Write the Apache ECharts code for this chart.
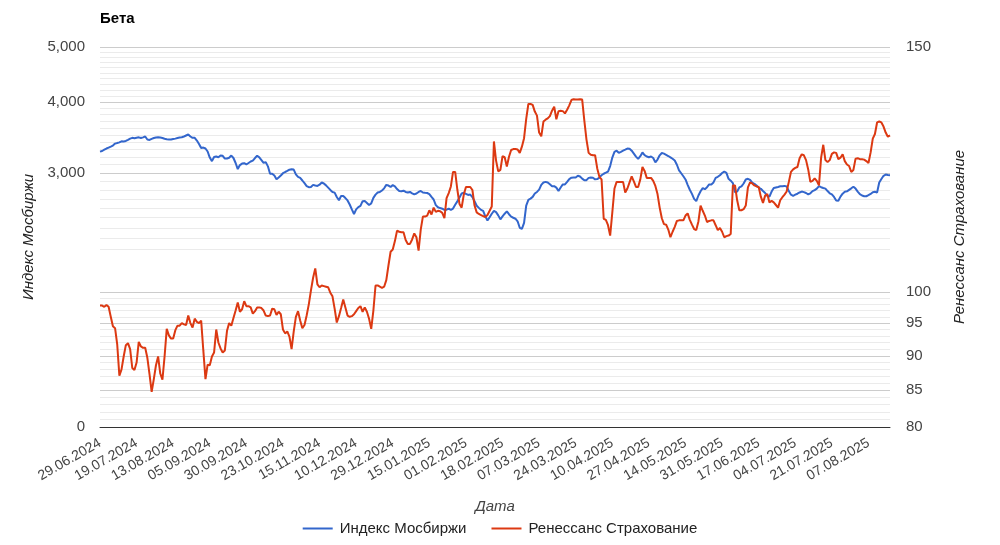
<!DOCTYPE html>
<html>
<head>
<meta charset="utf-8">
<script src="https://cdn.jsdelivr.net/npm/echarts@6/dist/echarts.min.js"></script>
<style>
  html, body { margin: 0; padding: 0; background: #fff; }
  #chart { width: 1000px; height: 545px; }
</style>
</head>
<body>
<div id="chart"></div>
<script>
// подписи оси X (каждая 17-я строка данных)
const tickLabels = ['29.06.2024', '19.07.2024', '13.08.2024', '05.09.2024', '30.09.2024', '23.10.2024',
  '15.11.2024', '10.12.2024', '29.12.2024', '15.01.2025', '01.02.2025', '18.02.2025', '07.03.2025',
  '24.03.2025', '10.04.2025', '27.04.2025', '14.05.2025', '31.05.2025', '17.06.2025', '04.07.2025',
  '21.07.2025', '07.08.2025'];
const rowsPerTick = 17;

// Индекс Мосбиржи (левая ось)
const moex = [
  3270, 3278, 3295, 3311, 3324, 3337, 3351, 3378, 3386, 3395,
  3410, 3408, 3415, 3430, 3447, 3458, 3452, 3459, 3465, 3455,
  3465, 3477, 3434, 3429, 3444, 3455, 3463, 3466, 3462, 3455,
  3445, 3438, 3434, 3434, 3441, 3447, 3455, 3462, 3466, 3477,
  3491, 3505, 3477, 3458, 3458, 3420, 3372, 3317, 3324, 3311,
  3271, 3192, 3146, 3198, 3205, 3196, 3218, 3215, 3179, 3179,
  3189, 3218, 3186, 3122, 3046, 3096, 3115, 3120, 3105, 3122,
  3141, 3152, 3186, 3215, 3195, 3160, 3125, 3133, 3080, 2988,
  2988, 2967, 2922, 2943, 2967, 2995, 3010, 3023, 3038, 3044,
  3040, 2982, 2951, 2939, 2908, 2876, 2843, 2830, 2833, 2857,
  2849, 2845, 2859, 2884, 2873, 2851, 2825, 2799, 2776, 2768,
  2720, 2684, 2731, 2731, 2708, 2682, 2638, 2586, 2538, 2586,
  2610, 2623, 2674, 2677, 2655, 2633, 2650, 2710, 2746, 2769,
  2776, 2792, 2817, 2857, 2849, 2833, 2854, 2840, 2809, 2787,
  2783, 2790, 2776, 2769, 2776, 2760, 2749, 2758, 2776, 2787,
  2770, 2766, 2764, 2752, 2720, 2692, 2631, 2608, 2600, 2593,
  2580, 2583, 2595, 2581, 2595, 2635, 2672, 2714, 2759, 2766,
  2755, 2742, 2747, 2718, 2674, 2625, 2602, 2581, 2571, 2514,
  2472, 2505, 2541, 2571, 2557, 2524, 2484, 2514, 2541, 2566,
  2536, 2511, 2500, 2490, 2464, 2400, 2389, 2448, 2627, 2689,
  2702, 2721, 2758, 2776, 2803, 2857, 2884, 2892, 2884, 2863,
  2842, 2842, 2825, 2787, 2827, 2862, 2862, 2891, 2925, 2941,
  2943, 2943, 2964, 2955, 2930, 2910, 2912, 2939, 2943, 2940,
  2922, 2925, 2941, 2971, 2989, 3002, 3016, 3084, 3192, 3266,
  3282, 3254, 3267, 3282, 3296, 3311, 3309, 3282, 3243, 3204,
  3175, 3209, 3258, 3224, 3205, 3196, 3205, 3186, 3130, 3166,
  3221, 3251, 3243, 3228, 3212, 3195, 3176, 3154, 3100, 3031,
  2995, 2958, 2920, 2857, 2801, 2754, 2699, 2674, 2736, 2784,
  2819, 2807, 2830, 2862, 2862, 2885, 2940, 2952, 2971, 2998,
  3016, 3000, 2928, 2906, 2878, 2772, 2780, 2827, 2839, 2873,
  2920, 2928, 2915, 2882, 2869, 2849, 2825, 2812, 2786, 2764,
  2731, 2725, 2780, 2821, 2827, 2833, 2840, 2842, 2845, 2839,
  2786, 2745, 2733, 2745, 2756, 2770, 2780, 2774, 2764, 2749,
  2761, 2785, 2797, 2814, 2842, 2830, 2821, 2814, 2786, 2761,
  2749, 2720, 2681, 2679, 2724, 2757, 2778, 2783, 2800, 2817,
  2836, 2814, 2780, 2751, 2736, 2728, 2728, 2740, 2753, 2772,
  2778, 2769, 2884, 2926, 2964, 2979, 2973, 2971
];

// Ренессанс Страхование (правая ось)
const renins = [
  97.8, 97.8, 97.6, 97.9, 97.6, 96.0, 94.5, 94.2, 91.7, 87.1,
  88.0, 89.9, 91.6, 91.9, 91.0, 88.2, 87.9, 89.0, 92.1, 91.4,
  91.2, 91.2, 89.7, 87.3, 84.8, 86.6, 88.6, 89.9, 87.4, 86.5,
  89.9, 94.1, 93.1, 92.6, 92.6, 93.9, 94.6, 94.6, 95.0, 94.8,
  94.7, 96.2, 95.0, 94.3, 95.7, 95.2, 95.0, 95.4, 90.8, 86.6,
  88.7, 88.6, 89.9, 90.5, 94.0, 92.0, 91.1, 90.5, 90.8, 93.8,
  95.0, 94.6, 95.8, 97.0, 98.3, 96.8, 97.2, 98.5, 97.7, 97.7,
  97.5, 96.5, 96.9, 97.5, 97.5, 97.4, 97.0, 96.2, 96.1, 96.2,
  97.3, 97.2, 96.3, 96.8, 96.4, 94.0, 93.4, 93.7, 92.9, 91.0,
  93.7, 96.0, 96.9, 95.4, 94.2, 94.7, 96.2, 98.0, 100.3, 102.4,
  104.0, 101.3, 100.8, 101.1, 101.0, 100.9, 100.8, 99.9, 99.3, 97.3,
  95.1, 96.1, 97.4, 98.8, 97.5, 96.2, 96.0, 96.1, 96.4, 96.9,
  97.4, 97.7, 96.8, 97.5, 96.8, 95.7, 94.1, 97.0, 101.1, 101.1,
  100.9, 100.7, 100.9, 102.0, 104.5, 106.9, 107.3, 108.8, 110.7, 110.5,
  110.4, 110.4, 109.0, 108.3, 108.3, 109.1, 110.2, 109.5, 107.1, 110.9,
  113.3, 113.3, 113.5, 114.5, 113.7, 115.0, 114.2, 114.4, 114.3, 114.0,
  113.0, 116.8, 117.8, 119.1, 122.0, 122.0, 118.5, 115.7, 115.0, 117.5,
  119.0, 119.0, 119.0, 118.4, 115.4, 114.1, 113.8, 113.6, 113.4, 113.2,
  113.6, 114.4, 115.2, 128.3, 124.3, 122.1, 122.4, 125.2, 125.0, 123.1,
  125.1, 126.5, 126.7, 126.7, 126.6, 125.9, 127.2, 129.0, 133.2, 136.5,
  136.5, 136.3, 134.8, 133.9, 130.2, 129.4, 132.6, 133.0, 133.3, 133.8,
  135.0, 135.9, 133.1, 134.9, 135.0, 134.9, 134.4, 135.2, 136.2, 137.4,
  137.6, 137.5, 137.5, 137.6, 137.5, 132.8, 128.7, 125.9, 125.5, 125.4,
  125.4, 122.7, 121.0, 120.5, 112.9, 112.7, 111.7, 109.8, 114.1, 118.7,
  120.0, 120.0, 120.0, 120.0, 117.9, 118.7, 119.9, 121.1, 120.1, 119.0,
  119.0, 120.5, 123.0, 122.2, 120.8, 120.8, 120.8, 120.2, 119.2, 117.6,
  115.0, 113.0, 111.9, 111.8, 110.9, 109.5, 110.5, 111.4, 112.5, 112.6,
  112.6, 112.6, 113.5, 113.9, 112.7, 111.8, 111.0, 110.8, 112.4, 115.4,
  114.4, 113.5, 112.3, 112.5, 112.6, 112.6, 111.7, 110.8, 111.2, 110.5,
  109.5, 109.7, 109.8, 110.1, 119.3, 119.3, 116.4, 114.5, 114.5, 114.7,
  115.4, 118.9, 119.9, 119.7, 119.3, 119.1, 119.0, 117.1, 115.9, 117.3,
  117.6, 116.0, 116.3, 116.0, 115.5, 115.0, 116.4, 117.0, 117.5, 118.1,
  120.0, 122.0, 122.5, 122.8, 123.0, 124.8, 125.6, 125.4, 124.4, 122.5,
  120.0, 120.2, 120.7, 120.2, 119.3, 124.9, 127.6, 124.4, 124.0, 124.4,
  125.7, 126.0, 125.9, 124.6, 124.9, 125.6, 124.2, 123.5, 123.2, 122.0,
  122.4, 124.7, 124.8, 124.6, 124.6, 124.5, 124.2, 123.8, 126.0, 128.9,
  129.9, 132.4, 132.6, 132.4, 131.5, 130.2, 129.3, 129.6
];

// левая ось: нижняя граница подписана как "0"
const leftMin = 1069;
const leftMax = 5000;
const leftLabels = [leftMin, 3000, 4000, 5000];
const leftGrid = [2200, 2300, 2400, 2500, 2600, 2700, 2800, 2900, 3000, 3100, 3200, 3300, 3400, 3500,
  3600, 3700, 3800, 3900, 4000, 4100, 4200, 4300, 4400, 4500, 4600, 4700, 4800, 4900, 5000];

const rightMin = 80;
const rightMax = 150;
const rightLabels = [80, 85, 90, 95, 100, 150];
const rightGrid = [80, 81, 82, 83, 84, 85, 86, 87, 88, 89, 90, 91, 92, 93, 94, 95, 96, 97, 98, 99, 100];

const categories = moex.map((v, i) => (i % rowsPerTick === 0 ? tickLabels[i / rowsPerTick] : ''));

const font = '"Liberation Sans", Arial, sans-serif';
const minor = '#ebebeb';
const major = '#cccccc';

const chart = echarts.init(document.getElementById('chart'));
chart.setOption({
  animation: false,
  color: ['#3366cc', '#dc3912'],
  textStyle: { fontFamily: font },
  title: {
    text: 'Бета',
    left: 95,
    top: 6,
    textStyle: { fontSize: 15, fontWeight: 'bold', color: '#000', fontFamily: font }
  },
  legend: {
    bottom: 4,
    left: 'center',
    icon: 'rect',
    itemWidth: 30,
    itemHeight: 2,
    itemGap: 25,
    textStyle: { fontSize: 15, color: '#222', fontFamily: font, padding: [0, 0, 0, 2] },
    data: ['Индекс Мосбиржи', 'Ренессанс Страхование']
  },
  grid: {
    left: 100,
    right: 110,
    top: 47,
    bottom: 118,
    containLabel: false,
    outerBoundsMode: 'none'
  },
  xAxis: {
    type: 'category',
    data: categories,
    boundaryGap: false,
    axisLine: { onZero: false, lineStyle: { color: '#333', width: 1 } },
    axisTick: { show: false },
    axisLabel: { interval: rowsPerTick - 1, rotate: 30, fontSize: 14, color: '#444', margin: 15 },
    splitLine: { show: false },
    name: 'Дата',
    nameLocation: 'middle',
    nameGap: 72,
    nameTextStyle: { fontStyle: 'italic', fontSize: 15, color: '#444' }
  },
  yAxis: [
    {
      type: 'log',
      position: 'left',
      min: leftMin,
      max: leftMax,
      axisLine: { show: false },
      axisTick: { show: false, customValues: leftGrid },
      axisLabel: {
        customValues: leftLabels,
        formatter: (v) => (v < 2000 ? '0' : Math.round(v).toLocaleString('en-US')),
        fontSize: 15,
        color: '#444',
        margin: 15
      },
      splitLine: {
        lineStyle: { color: [minor, minor, minor, minor, minor, minor, minor, minor, major, minor], width: 1 }
      },
      name: 'Индекс Мосбиржи',
      nameLocation: 'middle',
      nameRotate: 90,
      nameGap: 64,
      nameTextStyle: { fontStyle: 'italic', fontSize: 15, color: '#222' }
    },
    {
      type: 'log',
      position: 'right',
      min: rightMin,
      max: rightMax,
      axisLine: { show: false },
      axisTick: { show: false, customValues: rightGrid },
      axisLabel: {
        customValues: rightLabels,
        formatter: (v) => String(Math.round(v)),
        fontSize: 15,
        color: '#444',
        margin: 16
      },
      splitLine: {
        lineStyle: { color: [major, minor, minor, minor, minor], width: 1 }
      },
      name: 'Ренессанс Страхование',
      nameLocation: 'middle',
      nameRotate: 90,
      nameGap: 62,
      nameTextStyle: { fontStyle: 'italic', fontSize: 15, color: '#222' }
    }
  ],
  series: [
    {
      name: 'Индекс Мосбиржи',
      type: 'line',
      data: moex,
      yAxisIndex: 0,
      symbol: 'none',
      lineStyle: { width: 2 }
    },
    {
      name: 'Ренессанс Страхование',
      type: 'line',
      data: renins,
      yAxisIndex: 1,
      symbol: 'none',
      lineStyle: { width: 2 }
    }
  ]
});
</script>
</body>
</html>
